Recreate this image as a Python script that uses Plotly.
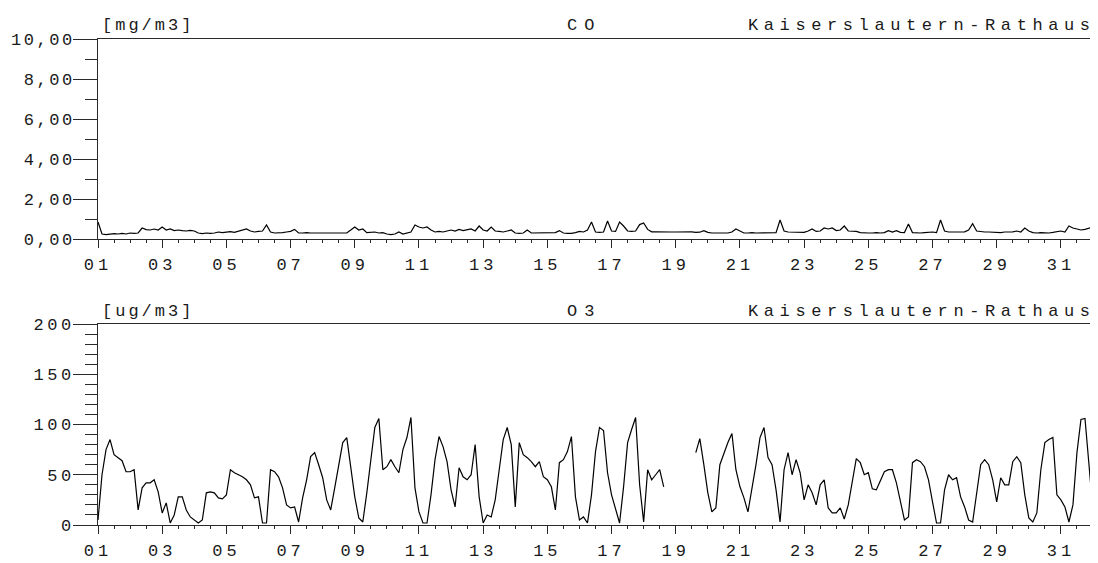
import plotly.graph_objects as go

# ---------------- data (3-hourly readings, Kaiserslautern-Rathaus) ----------------
step_hours = 3
day_ticks = [1, 3, 5, 7, 9, 11, 13, 15, 17, 19, 21, 23, 25, 27, 29, 31]
day_labels = ["01", "03", "05", "07", "09", "11", "13", "15", "17", "19",
              "21", "23", "25", "27", "29", "31"]

co_ticks = [0, 2, 4, 6, 8, 10]
co_labels = ["0,00", "2,00", "4,00", "6,00", "8,00", "10,00"]
o3_ticks = [0, 50, 100, 150, 200]
o3_labels = ["0", "50", "100", "150", "200"]

co_values = [
    0.85, 0.25, 0.22, 0.25, 0.27, 0.25, 0.28, 0.25,
    0.30, 0.28, 0.30, 0.55, 0.47, 0.45, 0.50, 0.45,
    0.60, 0.45, 0.50, 0.42, 0.45, 0.42, 0.40, 0.43,
    0.40, 0.30, 0.27, 0.30, 0.28, 0.30, 0.35, 0.32,
    0.35, 0.37, 0.33, 0.38, 0.45, 0.50, 0.40, 0.35,
    0.38, 0.40, 0.70, 0.35, 0.30, 0.30, 0.32, 0.35,
    0.38, 0.48, 0.30, 0.30, 0.32, 0.30, 0.30, 0.30,
    0.33, 0.30, 0.30, 0.30, 0.30, 0.30, 0.30, 0.45,
    0.60, 0.45, 0.50, 0.32, 0.33, 0.35, 0.30, 0.32,
    0.25, 0.22, 0.25, 0.35, 0.25, 0.30, 0.35, 0.70,
    0.60, 0.55, 0.60, 0.45, 0.35, 0.38, 0.35, 0.40,
    0.45, 0.40, 0.48, 0.42, 0.45, 0.50, 0.40, 0.65,
    0.45, 0.40, 0.60, 0.40, 0.38, 0.35, 0.40, 0.45,
    0.30, 0.28, 0.30, 0.45, 0.30, 0.30, 0.32, 0.30,
    0.30, 0.30, 0.32, 0.42, 0.30, 0.28, 0.28, 0.32,
    0.38, 0.35, 0.45, 0.85, 0.35, 0.33, 0.35, 0.90,
    0.40, 0.38, 0.85, 0.65, 0.40, 0.38, 0.40, 0.72,
    0.80, 0.48, 0.36, 0.36, 0.35, 0.36, 0.36, 0.35,
    0.35, 0.36, 0.35, 0.35, 0.36, 0.33, 0.34, 0.42,
    0.33, 0.30, 0.30, 0.30, 0.28, 0.30, 0.35, 0.50,
    0.40, 0.30, 0.30, 0.32, 0.30, 0.30, 0.30, 0.32,
    0.32, 0.32, 0.95, 0.40, 0.35, 0.34, 0.33, 0.35,
    0.33, 0.40, 0.50, 0.38, 0.40, 0.55, 0.50, 0.55,
    0.42, 0.45, 0.65, 0.40, 0.38, 0.38, 0.32, 0.30,
    0.30, 0.30, 0.32, 0.30, 0.32, 0.42, 0.35, 0.42,
    0.33, 0.32, 0.75, 0.32, 0.30, 0.30, 0.32, 0.33,
    0.35, 0.32, 0.95, 0.40, 0.35, 0.35, 0.36, 0.38,
    0.36, 0.45, 0.77, 0.40, 0.36, 0.35, 0.35, 0.34,
    0.33, 0.32, 0.35, 0.34, 0.36, 0.40, 0.35, 0.55,
    0.40, 0.32, 0.30, 0.32, 0.30, 0.30, 0.33, 0.35,
    0.40, 0.35, 0.65, 0.55, 0.50, 0.45, 0.48, 0.55,
    0.60,
]

o3_values = [
    5, 50, 75, 85, 70, 67, 64, 53,
    53, 55, 15, 37, 42, 42, 45, 33,
    12, 22, 2, 10, 28, 28, 15, 8,
    5, 2, 5, 32, 33, 32, 27, 26,
    30, 55, 52, 50, 48, 45, 40, 27,
    28, 2, 2, 55, 53, 48, 37, 20,
    17, 18, 3, 27, 45, 68, 72, 60,
    47, 25, 15, 37, 58, 82, 87, 60,
    28, 7, 3, 32, 67, 97, 106, 55,
    58, 65, 58, 52, 75, 87, 107, 37,
    13, 2, 2, 30, 65, 88, 78, 63,
    35, 18, 57, 48, 45, 50, 80, 28,
    2, 10, 8, 25, 55, 85, 97, 80,
    18, 82, 70, 67, 63, 58, 63, 48,
    45, 38, 15, 62, 65, 73, 88, 28,
    5, 8, 2, 30, 73, 97, 94, 52,
    30, 15, 2, 38, 82, 95, 107, 40,
    3, 55, 45, 50, 55, 38, None, None,
    None, None, None, None, None, 72, 86, 60,
    32, 13, 17, 60, 72, 82, 91, 55,
    38, 27, 13, 35, 60, 87, 97, 67,
    60, 35, 3, 55, 72, 50, 65, 52,
    25, 40, 32, 20, 40, 45, 17, 12,
    12, 17, 6, 20, 45, 66, 62, 50,
    52, 36, 35, 45, 53, 55, 55, 42,
    25, 5, 8, 62, 65, 63, 58, 45,
    23, 2, 2, 35, 50, 45, 47, 28,
    18, 5, 3, 30, 60, 65, 60, 45,
    23, 47, 40, 40, 63, 68, 62, 30,
    7, 3, 12, 55, 82, 85, 87, 30,
    25, 18, 3, 20, 72, 105, 106, 60,
    13,
]

station = "Kaiserslautern-Rathaus"

# x position in days (day 1 00:00 = 1.0)
co_x = [1 + i * step_hours / 24 for i in range(len(co_values))]
o3_x = [1 + i * step_hours / 24 for i in range(len(o3_values))]

# ---------------- styling ----------------
FONT = "Liberation Mono"
TXT = "#1a1a1a"
AX = "#2a2a2a"
FS = 17


def sp(s, ls=4):
    return f'<span style="letter-spacing:{ls}px">{s}</span>'


# the page body has an 8px margin, so the figure is shrunk by that amount
OFF = 8
W, H = 1098 - OFF, 563 - OFF
ML, MT = 98 - OFF, 39 - OFF
MR = W - (1093 - OFF)
MB = H - (525 - OFF)
PW, PH = W - ML - MR, H - MT - MB


def px(xp):  # page pixel -> paper fraction
    return (xp - OFF - ML) / PW


def py(yp):
    return (H - MB - (yp - OFF)) / PH


fig = go.Figure()
fig.add_trace(go.Scatter(x=co_x, y=co_values, mode="lines",
                         line=dict(color="black", width=1.2),
                         connectgaps=False, xaxis="x", yaxis="y",
                         showlegend=False, hoverinfo="skip"))
fig.add_trace(go.Scatter(x=o3_x, y=o3_values, mode="lines",
                         line=dict(color="black", width=1.2),
                         connectgaps=False, xaxis="x2", yaxis="y2",
                         showlegend=False, hoverinfo="skip"))

xcommon = dict(range=[1, 32], tickvals=day_ticks,
               ticktext=[sp(t, 4) for t in day_labels],
               ticks="outside", ticklen=8, tickwidth=1, tickcolor=AX,
               showline=True, linecolor=AX, linewidth=1, mirror=True,
               showgrid=False, zeroline=False, ticklabelstandoff=2,
               automargin=False,
               tickfont=dict(family=FONT, size=FS, color=TXT),
               minor=dict(ticks="outside", ticklen=3, dtick=0.5, tick0=1,
                          tickcolor=AX, tickwidth=1, showgrid=False),
               fixedrange=True)
ycommon = dict(ticks="outside", ticklen=24, tickwidth=1, tickcolor=AX,
               showline=True, linecolor=AX, linewidth=1, mirror=True,
               showgrid=False, zeroline=False, ticklabelstandoff=-5,
               automargin=False,
               tickfont=dict(family=FONT, size=FS, color=TXT),
               fixedrange=True)

top_dom = [py(239), 1.0]
bot_dom = [0.0, py(324)]

fig.update_layout(
    width=W, height=H,
    margin=dict(l=ML, r=MR, t=MT, b=MB, autoexpand=False),
    paper_bgcolor="white", plot_bgcolor="white",
    xaxis=dict(**xcommon, anchor="y", domain=[0, 1]),
    yaxis=dict(**ycommon, anchor="x", domain=top_dom, range=[0, 10],
               tickvals=co_ticks, ticktext=[sp(t, 2.5) for t in co_labels],
               minor=dict(ticks="outside", ticklen=12, dtick=1, tick0=0,
                          tickcolor=AX, tickwidth=1, showgrid=False)),
    xaxis2=dict(**xcommon, anchor="y2", domain=[0, 1]),
    yaxis2=dict(**ycommon, anchor="x2", domain=bot_dom, range=[0, 200],
                tickvals=o3_ticks, ticktext=[sp(t, 3.5) for t in o3_labels],
                minor=dict(ticks="outside", ticklen=12, dtick=10, tick0=0,
                           tickcolor=AX, tickwidth=1, showgrid=False)),
    showlegend=False,
)

ann_font = dict(family=FONT, size=FS, color=TXT)
for unit, name, ytxt in [("[mg/m3]", "CO", 25), ("[ug/m3]", "O3", 311)]:
    fig.add_annotation(text=sp(unit, 3), x=px(100), y=py(ytxt), xref="paper",
                       yref="paper", xanchor="left", yanchor="middle",
                       showarrow=False, font=ann_font)
    fig.add_annotation(text=sp(name, 7), x=px(584), y=py(ytxt), xref="paper",
                       yref="paper", xanchor="center", yanchor="middle",
                       showarrow=False, font=ann_font)
    fig.add_annotation(text=sp(station, 5.6), x=1.0, y=py(ytxt), xref="paper",
                       yref="paper", xanchor="right", yanchor="middle",
                       xshift=5, showarrow=False, font=ann_font)

fig.write_html("out.html")
